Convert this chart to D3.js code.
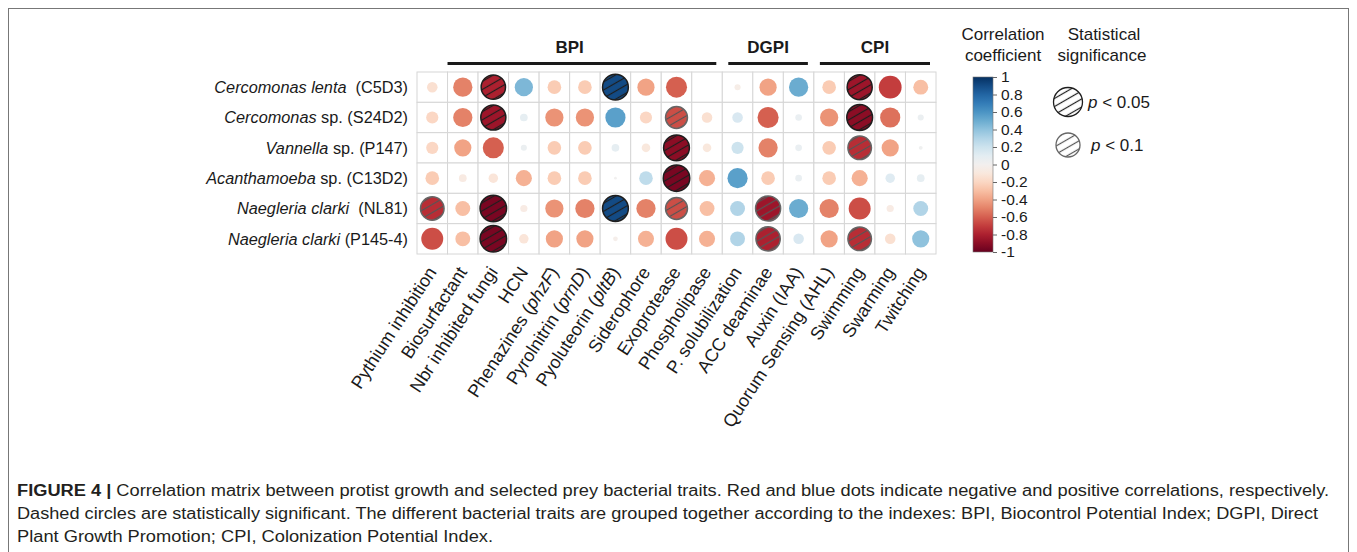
<!DOCTYPE html>
<html lang="en">
<head>
<meta charset="utf-8">
<title>Correlation matrix protist growth vs bacterial traits</title>
<script src="https://cdnjs.cloudflare.com/ajax/libs/d3/7.8.5/d3.min.js"></script>
<style>
  body { margin: 0; background: #fff; }
  text { font-family: "Liberation Sans", Arial, sans-serif; }
</style>
</head>
<body>
<script>
// ---- data ----
var traits = ["Pythium inhibition", "Biosurfactant", "Nbr inhibited fungi", "HCN",
  "Phenazines (*phzF*)", "Pyrolnitrin (*prnD*)", "Pyoluteorin (*pltB*)", "Siderophore",
  "Exoprotease", "Phospholipase", "P. solubilization", "ACC deaminae", "Auxin (IAA)",
  "Quorum Sensing (AHL)", "Swimming", "Swarming", "Twitching"];

var protistGenus = ["Cercomonas lenta", "Cercomonas", "Vannella", "Acanthamoeba", "Naegleria clarki", "Naegleria clarki"];
var protistStrain = ["  (C5D3)", " sp. (S24D2)", " sp. (P147)", " sp. (C13D2)", "  (NL81)", " (P145-4)"];

// correlation coefficients, one row per protist, one value per trait
var corr = [
  [-0.15, -0.50, -0.80,  0.45, -0.25, -0.25,  0.90, -0.40, -0.60,  0.00, -0.05, -0.40,  0.50, -0.25, -0.85, -0.70, -0.30],
  [-0.20, -0.50, -0.85,  0.08, -0.45, -0.45,  0.55, -0.20, -0.65, -0.15,  0.15, -0.60,  0.06, -0.45, -0.90, -0.55,  0.05],
  [-0.20, -0.40, -0.60,  0.05, -0.25, -0.25,  0.08, -0.10, -0.90, -0.10,  0.20, -0.50,  0.06, -0.25, -0.75, -0.40,  0.02],
  [-0.25, -0.08, -0.12, -0.35, -0.25, -0.25,  0.01,  0.25, -0.95, -0.35,  0.55, -0.25,  0.06, -0.25, -0.35,  0.12,  0.08],
  [-0.75, -0.30, -0.95, -0.07, -0.45, -0.50,  0.90, -0.50, -0.65, -0.30,  0.30, -0.85,  0.50, -0.50, -0.65, -0.07,  0.30],
  [-0.65, -0.30, -0.95, -0.12, -0.40, -0.40, -0.03, -0.35, -0.65, -0.35,  0.30, -0.80,  0.15, -0.40, -0.75, -0.15,  0.40]
];

// significance: 0 none, 1 p < 0.1, 2 p < 0.05
var signif = [
  [0, 0, 2, 0, 0, 0, 2, 0, 0, 0, 0, 0, 0, 0, 2, 0, 0],
  [0, 0, 2, 0, 0, 0, 0, 0, 1, 0, 0, 0, 0, 0, 2, 0, 0],
  [0, 0, 0, 0, 0, 0, 0, 0, 2, 0, 0, 0, 0, 0, 1, 0, 0],
  [0, 0, 0, 0, 0, 0, 0, 0, 2, 0, 0, 0, 0, 0, 0, 0, 0],
  [1, 0, 2, 0, 0, 0, 2, 0, 1, 0, 0, 1, 0, 0, 0, 0, 0],
  [0, 0, 2, 0, 0, 0, 0, 0, 0, 0, 0, 1, 0, 0, 1, 0, 0]
];

var groupNames = ["BPI", "DGPI", "CPI"];
var groupFirst = [0, 10, 13];
var groupLast = [9, 12, 16];
var groupLineFirst = [1, 10, 13];

var legendTicks = [1, 0.8, 0.6, 0.4, 0.2, 0, -0.2, -0.4, -0.6, -0.8, -1];

var captionLines = [
  "Correlation matrix between protist growth and selected prey bacterial traits. Red and blue dots indicate negative and positive correlations, respectively.",
  "Dashed circles are statistically significant. The different bacterial traits are grouped together according to the indexes: BPI, Biocontrol Potential Index; DGPI, Direct",
  "Plant Growth Promotion; CPI, Colonization Potential Index."
];
var captionWidths = [1312, 1301, 476];

// ---- svg ----
var w = 1357, h = 552;
var svg = d3.select("body").append("svg").attr("width", w).attr("height", h);

svg.append("rect").attr("x", 8.5).attr("y", 8.5).attr("width", 1340).attr("height", 600)
  .attr("fill", "none").attr("stroke", "#777").attr("stroke-width", 1);

var defs = svg.append("defs");
function hatch(id, col) {
  var p = defs.append("pattern").attr("id", id).attr("patternUnits", "userSpaceOnUse")
    .attr("width", 10).attr("height", 7).attr("patternTransform", "rotate(-30)");
  p.append("line").attr("x1", 0).attr("x2", 10).attr("y1", 3.5).attr("y2", 3.5)
    .attr("stroke", col).attr("stroke-width", 1.2);
}
hatch("h05", "#1e1e1e");
hatch("h10", "#555");

var x = d3.scaleBand().domain(d3.range(traits.length)).range([417, 936]);
var y = d3.scaleBand().domain(d3.range(protistGenus.length)).range([72, 254]);
var rad = d3.scaleSqrt().domain([0, 1]).range([0, 13.6]);
var color = function(v) { return d3.interpolateRdBu((v + 1) / 2); };

// grid
var cells = [];
corr.forEach(function(row, i) {
  row.forEach(function(v, j) { cells.push({ i: i, j: j, v: v, s: signif[i][j] }); });
});

svg.append("g").selectAll("rect").data(cells).enter().append("rect")
  .attr("x", function(d) { return x(d.j); })
  .attr("y", function(d) { return y(d.i); })
  .attr("width", x.bandwidth()).attr("height", y.bandwidth())
  .attr("fill", "#fff").attr("stroke", "#d6d6d6").attr("stroke-width", 1);

var dots = svg.append("g").selectAll("g").data(cells).enter().append("g")
  .attr("transform", function(d) {
    return "translate(" + (x(d.j) + x.bandwidth() / 2) + "," + (y(d.i) + y.bandwidth() / 2) + ")";
  });
dots.append("circle").attr("r", function(d) { return rad(Math.abs(d.v)); })
  .attr("fill", function(d) { return color(d.v); });
dots.filter(function(d) { return d.s > 0; }).append("circle")
  .attr("r", function(d) { return rad(Math.abs(d.v)); })
  .attr("fill", function(d) { return d.s === 2 ? "url(#h05)" : "url(#h10)"; })
  .attr("stroke", function(d) { return d.s === 2 ? "#1e1e1e" : "#666"; })
  .attr("stroke-width", 1.5);

// row labels
var rowLab = svg.append("g").selectAll("text").data(protistGenus).enter().append("text")
  .attr("x", 408)
  .attr("y", function(d, i) { return y(i) + y.bandwidth() / 2; })
  .attr("dy", "0.35em").attr("text-anchor", "end")
  .attr("font-size", 16.3).attr("fill", "#1a1a1a").style("white-space", "pre");
rowLab.append("tspan").attr("font-style", "italic").text(function(d) { return d; });
rowLab.append("tspan").text(function(d, i) { return protistStrain[i]; });

// column labels
svg.append("g").selectAll("text").data(traits).enter().append("text")
  .attr("transform", function(d, j) {
    return "translate(" + (x(j) + x.bandwidth() / 2 + 5) + ",272) rotate(-57)";
  })
  .attr("text-anchor", "end").attr("font-size", 18).attr("fill", "#1a1a1a")
  .each(function(d) {
    var t = d3.select(this);
    d.split("*").forEach(function(part, k) {
      if (part.length) t.append("tspan").attr("font-style", k % 2 ? "italic" : null).text(part);
    });
  });

// group headers
groupNames.forEach(function(g, k) {
  var x0 = x(groupFirst[k]), x1 = x(groupLast[k]) + x.bandwidth();
  var l0 = x(groupLineFirst[k]) + (k === 0 ? 0 : 6);
  svg.append("line").attr("x1", l0).attr("x2", x1 - 6).attr("y1", 63.5).attr("y2", 63.5)
    .attr("stroke", "#1a1a1a").attr("stroke-width", 3);
  svg.append("text").attr("x", (x0 + x1) / 2).attr("y", 53).attr("text-anchor", "middle")
    .attr("font-size", 17).attr("font-weight", "bold").attr("fill", "#1a1a1a").text(g);
});

// colour legend
var grad = defs.append("linearGradient").attr("id", "cbar").attr("x1", 0).attr("x2", 0).attr("y1", 0).attr("y2", 1);
d3.range(0, 1.0001, 0.05).forEach(function(t) {
  grad.append("stop").attr("offset", t).attr("stop-color", color(1 - 2 * t));
});
var ly = d3.scaleLinear().domain([1, -1]).range([77, 252]);
svg.append("rect").attr("x", 973).attr("y", ly(1)).attr("width", 20).attr("height", ly(-1) - ly(1))
  .attr("fill", "url(#cbar)").attr("stroke", "#777").attr("stroke-width", 0.6);
var lax = svg.append("g").attr("transform", "translate(993,0)")
  .call(d3.axisRight(ly).tickValues(legendTicks).tickSize(4).tickPadding(4)
    .tickFormat(function(d) { return String(Math.round(d * 10) / 10); }));
lax.select(".domain").remove();
lax.selectAll("line").attr("stroke", "#666");
lax.selectAll("text").attr("font-size", 15.5).attr("fill", "#1a1a1a").attr("dy", "0.3em")
  .attr("font-family", "Liberation Sans, Arial, sans-serif");

var titles = [["Correlation", 1003, 40], ["coefficient", 1003, 61], ["Statistical", 1104, 40], ["significance", 1102, 61]];
svg.append("g").selectAll("text").data(titles).enter().append("text")
  .attr("x", function(d) { return d[1]; }).attr("y", function(d) { return d[2]; })
  .attr("text-anchor", "middle").attr("font-size", 17).attr("fill", "#1a1a1a")
  .text(function(d) { return d[0]; });

// significance legend
var sigLeg = [{ lab: " < 0.05", r: 14.5, s: 2, cy: 102 }, { lab: " < 0.1", r: 12, s: 1, cy: 145 }];
var sl = svg.append("g").selectAll("g").data(sigLeg).enter().append("g");
sl.append("circle").attr("cx", 1068).attr("cy", function(d) { return d.cy; })
  .attr("r", function(d) { return d.r; })
  .attr("fill", function(d) { return d.s === 2 ? "url(#h05)" : "url(#h10)"; })
  .attr("stroke", function(d) { return d.s === 2 ? "#1e1e1e" : "#666"; }).attr("stroke-width", 1.3);
var st = sl.append("text").attr("x", function(d) { return d.s === 2 ? 1088 : 1091; })
  .attr("y", function(d) { return d.cy; }).attr("dy", "0.35em").attr("font-size", 17).attr("fill", "#1a1a1a");
st.append("tspan").attr("font-style", "italic").text("p");
st.append("tspan").text(function(d) { return d.lab; });

// caption
var cap = svg.append("g").attr("font-size", 16).attr("fill", "#231f20");
captionLines.forEach(function(line, k) {
  var t = cap.append("text").attr("x", 17).attr("y", 496 + 23 * k)
    .attr("textLength", captionWidths[k]).attr("lengthAdjust", "spacingAndGlyphs");
  if (k === 0) t.append("tspan").attr("font-weight", "bold").text("FIGURE 4 | ");
  t.append("tspan").text(line);
});
</script>
</body>
</html>
